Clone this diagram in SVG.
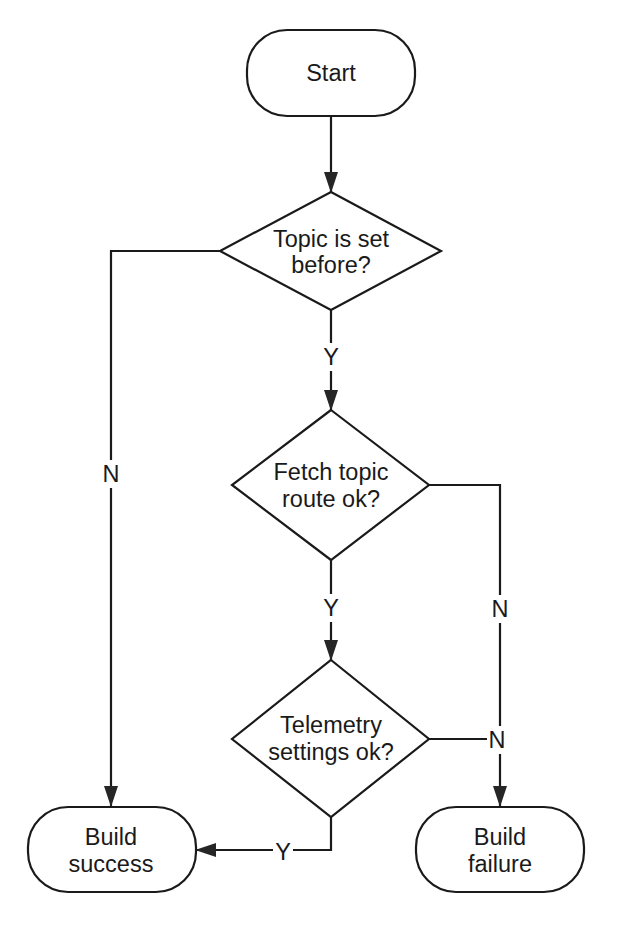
<svg xmlns="http://www.w3.org/2000/svg" width="624" height="925" viewBox="0 0 624 925">
<style>
.n{fill:#fff;stroke:#1a1a1a;stroke-width:2.2}
.c{fill:none;stroke:#1a1a1a;stroke-width:2.2}
text{font-family:"Liberation Sans",Arial,sans-serif;font-size:23.5px;fill:#1a1a1a;text-anchor:middle}
.lb{fill:#fff}
</style>
<defs>
<marker id="a" viewBox="0 0 21 14" refX="20" refY="7" markerWidth="21" markerHeight="14" markerUnits="userSpaceOnUse" orient="auto">
<path d="M0,0L21,7L0,14Z" fill="#262626"/>
</marker>
</defs>
<rect width="624" height="925" fill="#fff"/>
<g id="connectors">
<path class="c" d="M331,116V192" marker-end="url(#a)"/>
<path class="c" d="M331,310V410" marker-end="url(#a)"/>
<path class="c" d="M331,560V660" marker-end="url(#a)"/>
<path class="c" d="M220,251H111V806" marker-end="url(#a)"/>
<path class="c" d="M429,485H500V806" marker-end="url(#a)"/>
<path class="c" d="M429,739H500"/>
<path class="c" d="M331,817V850H196" marker-end="url(#a)"/>
<rect class="lb" x="321" y="343" width="20" height="28"/>
<text x="331" y="365">Y</text>
<rect class="lb" x="321" y="594" width="20" height="28"/>
<text x="331" y="616">Y</text>
<rect class="lb" x="101" y="460" width="20" height="28"/>
<text x="111" y="482">N</text>
<rect class="lb" x="490" y="595" width="20" height="28"/>
<text x="500" y="617">N</text>
<rect class="lb" x="487" y="726" width="20" height="28"/>
<text x="497" y="748">N</text>
<rect class="lb" x="273" y="838" width="20" height="28"/>
<text x="283" y="860">Y</text>
</g>
<g id="start">
<rect class="n" x="247" y="30" width="168" height="86" rx="40"/>
<text x="331" y="81">Start</text>
</g>
<g id="topic-set">
<path class="n" d="M331,192L441,251L331,310L220,251Z"/>
<text x="331" y="247">Topic is set</text>
<text x="331" y="273">before?</text>
</g>
<g id="fetch-route">
<path class="n" d="M331,410L429,485L331,560L232,485Z"/>
<text x="331" y="480">Fetch topic</text>
<text x="331" y="507">route ok?</text>
</g>
<g id="telemetry">
<path class="n" d="M331,660L429,739L331,817L232,739Z"/>
<text x="331" y="733">Telemetry</text>
<text x="331" y="760">settings ok?</text>
</g>
<g id="build-success">
<rect class="n" x="28" y="807" width="168" height="85" rx="40"/>
<text x="111" y="845">Build</text>
<text x="111" y="872">success</text>
</g>
<g id="build-failure">
<rect class="n" x="416" y="807" width="168" height="85" rx="40"/>
<text x="500" y="845">Build</text>
<text x="500" y="872">failure</text>
</g>
</svg>
